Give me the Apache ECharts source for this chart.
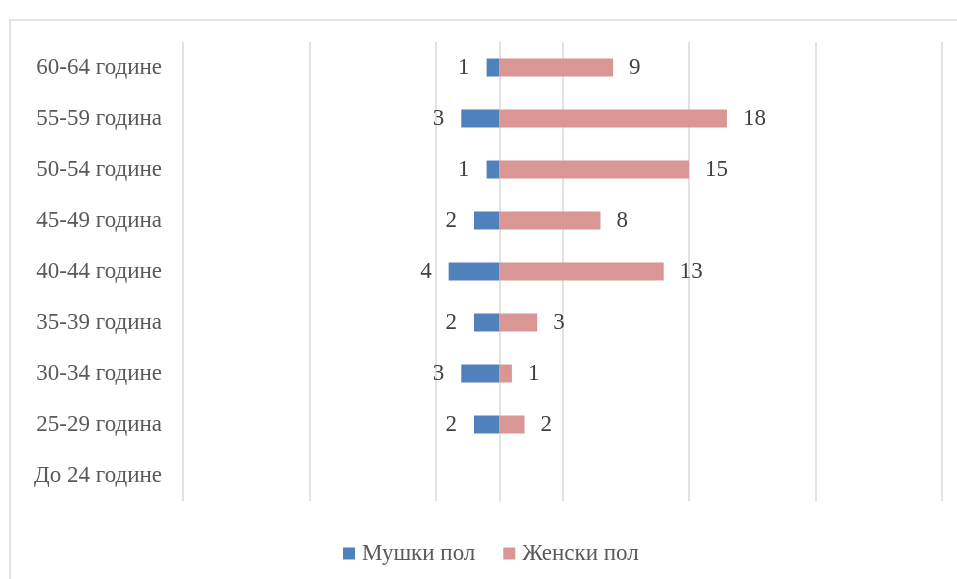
<!DOCTYPE html>
<html><head><meta charset="utf-8">
<script src="https://cdn.jsdelivr.net/npm/echarts@6/dist/echarts.min.js"></script>
<style>html,body{margin:0;padding:0;background:#fff}#c{width:957px;height:579px}</style>
</head><body><div id="c"></div>
<script>
const categories = ['До 24 године','25-29 година','30-34 године','35-39 година','40-44 године','45-49 година','50-54 године','55-59 година','60-64 године'];
const maleValues = [0,2,3,2,4,2,1,3,1];
const femaleValues = [0,2,1,3,13,8,15,18,9];
const seriesNames = ['Мушки пол','Женски пол'];

const font = '"Liberation Serif","Times New Roman",serif';
const chart = echarts.init(document.getElementById('c'));
chart.setOption({
  animation:false,
  graphic:[{type:'rect',shape:{x:10,y:20,width:980,height:600},style:{fill:'none',stroke:'#d9d9d9',lineWidth:1.5},silent:true}],
  grid:{left:183,right:15,top:42,bottom:78},
  legend:{bottom:14,left:343,padding:0,itemWidth:12,itemHeight:12,itemGap:28,icon:'rect',
    textStyle:{fontFamily:font,fontSize:23,color:'#595959',padding:[0,0,0,2]},data:seriesNames},
  xAxis:{type:'value',min:-25,max:35,interval:10,axisLabel:{show:false},axisLine:{show:false},axisTick:{show:false},
    splitLine:{lineStyle:{color:'#d9d9d9',width:1.5}}},
  yAxis:{type:'category',data:categories,axisTick:{show:false},
    axisLine:{onZero:true,lineStyle:{color:'#d9d9d9',width:1.5}},
    axisLabel:{fontFamily:font,fontSize:23,color:'#595959',margin:21}},
  series:[
    {name:seriesNames[0],type:'bar',stack:'t',barWidth:18,data:maleValues.map(v=>-v),
     itemStyle:{color:'#4f81bd'},
     label:{show:true,position:'left',distance:17,fontFamily:font,fontSize:23,color:'#404040',
       formatter:p=>p.value===0?'':String(Math.abs(p.value))}},
    {name:seriesNames[1],type:'bar',stack:'t',barWidth:18,data:femaleValues,
     itemStyle:{color:'#d99694'},
     label:{show:true,position:'right',distance:16,fontFamily:font,fontSize:23,color:'#404040',
       formatter:p=>p.value===0?'':String(p.value)}}
  ]
});
</script></body></html>
